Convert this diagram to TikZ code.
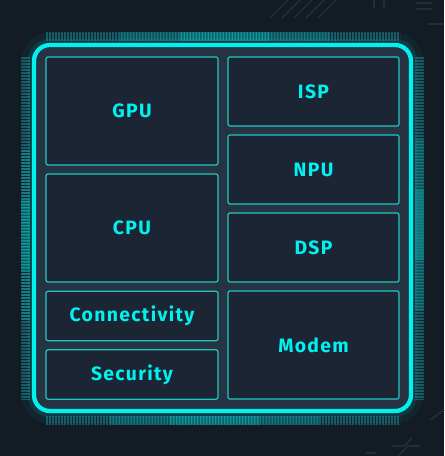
\documentclass[tikz,border=0pt]{standalone}
\usepackage{fontspec}
\newfontfamily\chipfont{Fira Sans}[LetterSpace=7]
\definecolor{bgdark}{HTML}{131C25}
\definecolor{chipfill}{HTML}{253343}
\definecolor{blockfill}{HTML}{1B2533}
\definecolor{neon}{HTML}{00F2F0}
\definecolor{blockline}{HTML}{1FC9C2}
\definecolor{pincolor}{HTML}{1F8E9B}
\definecolor{faint}{HTML}{222D38}
\tikzset{
  block/.style={draw=blockline, fill=blockfill, line width=0.9pt, rounded corners=1.5pt,
    inner sep=0pt, text=neon, font=\chipfont\bfseries\fontsize{14.5}{16}\selectfont},
  tallblock/.style={block, minimum width=129pt, minimum height=81pt},
  leftsmall/.style={block, minimum width=129pt, minimum height=37pt},
  rightblock/.style={block, minimum width=128.25pt, minimum height=51.75pt},
  pinrow/.style={draw=pincolor, dash pattern=on 1.6pt off 0.65pt, line width=6.75pt},
  pinglow/.style={draw=neon, dash pattern=on 1.6pt off 0.65pt, line width=6.75pt},
}
\begin{document}
\begin{tikzpicture}[x=0.75pt, y=-0.75pt]
\fill[bgdark] (0,0) rectangle (444,456);
\useasboundingbox (0,0) rectangle (444,456);
% faint background traces
\foreach \d in {0,12,24,36,48}
  \draw[faint, line width=1.2pt] (270+\d,18) -- (288+\d,0);
\draw[faint, line width=1.2pt] (374,0) -- (374,8) (384,0) -- (384,8);
\draw[faint, line width=1.2pt] (416,3) -- (432,3) (416,9) -- (432,9) (428,24) -- (444,24);
\draw[faint, line width=1.2pt] (392,446) -- (404,446) -- (412,438) (398,456) -- (408,446) -- (420,446);
\draw[faint, line width=1.2pt] (366,453) -- (376,453) (430,420) -- (444,410);
% pins
\draw[pinrow, opacity=0.5] (46,36.5) -- (400,36.5);
\draw[pinrow, opacity=0.5] (46,420) -- (400,420);
\draw[pinrow, opacity=0.5] (25.5,57) -- (25.5,400);
\draw[pinrow, opacity=0.5] (419.5,57) -- (419.5,400);
\draw[pinglow, opacity=0.2] (120,36.5) -- (330,36.5);
\draw[pinglow, opacity=0.2] (110,420) -- (320,420);
\draw[pinglow, opacity=0.2] (25.5,150) -- (25.5,320);
\draw[pinglow, opacity=0.2] (419.5,140) -- (419.5,310);
\draw[pinglow, opacity=0.25] (180,36.5) -- (270,36.5);
\draw[pinglow, opacity=0.25] (170,420) -- (260,420);
\draw[pinglow, opacity=0.25] (25.5,200) -- (25.5,270);
\draw[pinglow, opacity=0.25] (419.5,190) -- (419.5,260);
% chip body
\draw[neon, opacity=0.05, line width=18pt, rounded corners=12pt] (34,45) rectangle (411,411);
\draw[neon, opacity=0.1, line width=9pt, rounded corners=12pt] (34,45) rectangle (411,411);
\draw[neon, fill=chipfill, line width=3.2pt, rounded corners=12pt] (34,45) rectangle (411,411);
% blocks
\node[tallblock] (gpu) at (132,111) {GPU};
\node[tallblock] (cpu) at (132,228) {CPU};
\node[leftsmall] (conn) at (132,316) {Connectivity};
\node[leftsmall] (sec) at (132,374.5) {Security};
\node[rightblock] (isp) at (313.5,91.5) {ISP};
\node[rightblock] (npu) at (313.5,169.5) {NPU};
\node[rightblock] (dsp) at (313.5,247.5) {DSP};
\node[block, minimum width=128.25pt, minimum height=81pt] (modem) at (313.5,345) {Modem};
\end{tikzpicture}
\end{document}
